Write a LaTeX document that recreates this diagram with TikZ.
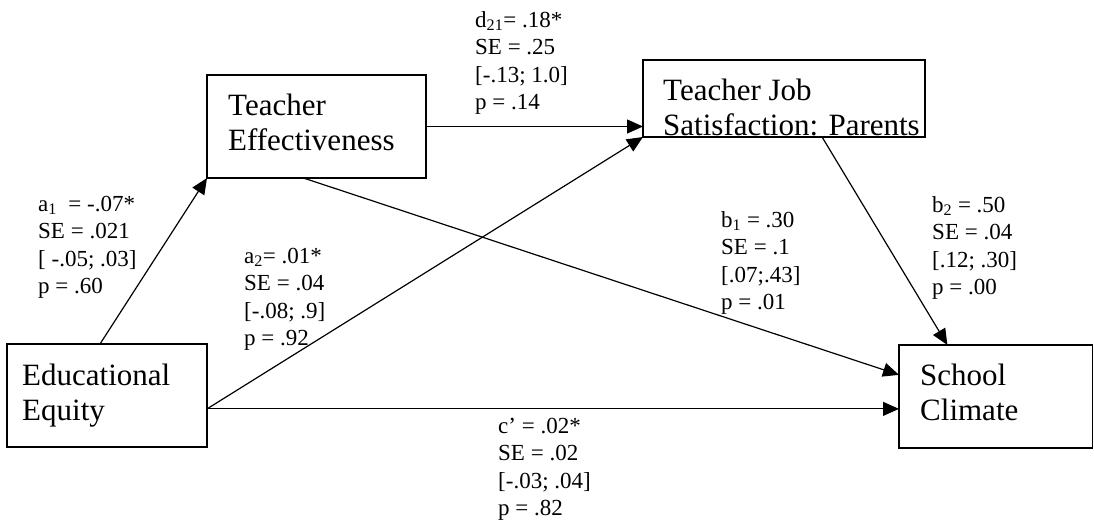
\documentclass[tikz,border=0pt]{standalone}
\usepackage{fontspec}
\setmainfont{Liberation Serif}
\usetikzlibrary{arrows.meta,calc}
\begin{document}
\begin{tikzpicture}[x=1pt,y=-1pt,
  box/.style={draw, line width=1.3pt, anchor=north west, inner sep=0pt, outer sep=0pt},
  boxtext/.style={anchor=north west, inner sep=0pt, align=left, font=\fontsize{31}{35}\selectfont},
  lbl/.style={anchor=north west, inner sep=0pt, align=left, font=\fontsize{23}{27.5}\selectfont},
  arr/.style={line width=1.2pt, -{Triangle[length=16pt,width=14pt]}}]
\fill[white] (0,0) rectangle (1094,526);
\useasboundingbox (0,0) rectangle (1094,526);
% boxes
\node[box, minimum width=219, minimum height=103] (te) at (207,75) {};
\node[box, minimum width=282, minimum height=77] (tjs) at (643,60) {};
\node[box, minimum width=200, minimum height=103] (ee) at (7,344) {};
\node[box, minimum width=193.5, minimum height=103] (sc) at (899,345) {};
% box texts
\node[boxtext] (tetext) at (228,90.5) {\strut Teacher\\Effectiveness};
\node[boxtext] (tjstext) at (663,75.5) {\strut Teacher Job\\Satisfaction: Parents};
\node[boxtext] (eetext) at (22,360.5) {\strut Educational\\Equity};
\node[boxtext] (sctext) at (920,360.5) {\strut School\\Climate};
% connectors
\coordinate (eeout) at ($(ee.south east)!0.37!(ee.north east)$);
\draw[arr] ($(ee.north west)!0.465!(ee.north east)$) -- (te.south west);
\draw[arr] (te.east) -- (te.east -| tjs.west);
\draw[arr] (eeout) -- (tjs.south west);
\draw[arr] (eeout) -- (eeout -| sc.west);
\draw[arr] ($(te.south west)!0.44!(te.south east)$) -- ($(sc.north west)!0.29!(sc.south west)$);
\draw[arr] ($(tjs.south west)!0.635!(tjs.south east)$) -- ($(sc.north west)!0.25!(sc.north east)$);
% labels
\node[lbl] (la1) at (38,191.75) {\strut a\textsubscript{1}\ \ = -.07*\\SE = .021\\{[} -.05; .03]\\p = .60};
\node[lbl] (ld21) at (475,7.75) {\strut d\textsubscript{21}= .18*\\SE = .25\\{[}-.13; 1.0]\\p = .14};
\node[lbl] (la2) at (244,243.75) {\strut a\textsubscript{2}= .01*\\SE = .04\\{[}-.08; .9]\\p = .92};
\node[lbl] (lb1) at (721,207.75) {\strut b\textsubscript{1} = .30\\SE = .1\\{[}.07;.43]\\p = .01};
\node[lbl] (lb2) at (932,192.75) {\strut b\textsubscript{2} = .50\\SE = .04\\{[}.12; .30]\\p = .00};
\node[lbl] (lc) at (498,413.75) {\strut c’ = .02*\\SE = .02\\{[}-.03; .04]\\p = .82};
\end{tikzpicture}
\end{document}
